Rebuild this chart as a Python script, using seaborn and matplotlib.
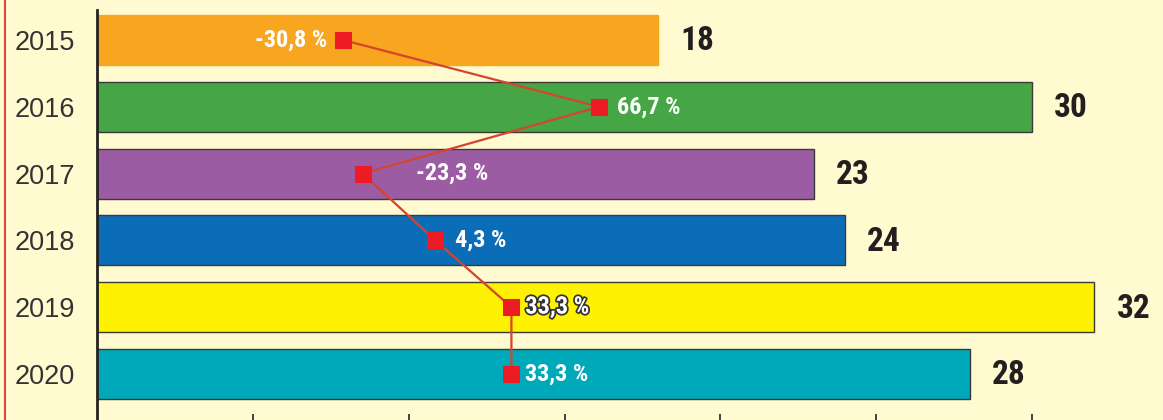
import matplotlib
matplotlib.use("Agg")
import matplotlib.pyplot as plt
import matplotlib.patheffects as pe
from matplotlib.lines import Line2D
import pandas as pd
import seaborn as sns

# Data
years = ['2015', '2016', '2017', '2018', '2019', '2020']
values = [18, 30, 23, 24, 32, 28]
changes = [-30.8, 66.7, -23.3, 4.3, 33.3, 33.3]
change_labels = ['-30,8 %', '66,7 %', '-23,3 %', '4,3 %', '33,3 %', '33,3 %']
colors = ['#F8A51F', '#46A645', '#9B5CA4', '#0B6DB8', '#FFF200', '#00A9BA']

df = pd.DataFrame({'year': years, 'value': values, 'change': changes})
df['pos'] = range(len(df))

bg = '#FFFAD0'
sns.set_style("white")
plt.rcParams['font.family'] = ['Liberation Sans', 'DejaVu Sans']
narrow = ['Roboto Condensed', 'DejaVu Sans']

fig = plt.figure(figsize=(11.63, 4.2), dpi=100, facecolor=bg)
ax = fig.add_axes([97 / 1163, 0, 1 - 97 / 1163, 410 / 420])
ax.set_facecolor(bg)

sns.barplot(data=df, x='value', y='year', hue='year', palette=colors,
            orient='h', width=0.75, legend=False, ax=ax, saturation=1,
            edgecolor='#3a3a3a', linewidth=1)
for i, cont in enumerate(ax.containers):
    for bar in cont:
        if i == 0:
            bar.set_edgecolor(colors[0])

ax.set_xlim(0, 34.2)
ax.set_ylim(5.69, -0.45)
ax.set_xlabel('')
ax.set_ylabel('')
ax.set_xticks([5, 10, 15, 20, 25, 30])
ax.set_xticklabels([])
ax.tick_params(axis='x', direction='in', length=4, width=1.2, color='#222222', bottom=True)
ax.tick_params(axis='y', length=0, labelsize=19.5, labelcolor='#333333', pad=16)
for s in ['top', 'right', 'bottom']:
    ax.spines[s].set_visible(False)
ax.spines['left'].set_color('#222222')
ax.spines['left'].set_linewidth(2)

for i, v in enumerate(values):
    ax.annotate(str(v), (v, i), xytext=(16, -1), textcoords='offset points',
                va='center', ha='left', fontsize=24, fontweight='bold',
                color='#231F20', family=narrow)

# percentage change line on a second x scale
ax2 = ax.twiny()
sns.lineplot(data=df, x='change', y='pos', sort=False, estimator=None,
             color='#D4442E', linewidth=1.6, marker='s', markersize=11,
             markerfacecolor='#ED1C24', markeredgecolor='#ED1C24', ax=ax2)
ax2.set_xlim(-124.5, 281.4)
ax2.set_ylim(5.69, -0.45)
ax2.set_xticks([])
ax2.set_xlabel('')
ax2.set_ylabel('')
for s in ax2.spines.values():
    s.set_visible(False)

offsets = [-11, 13, 38, 14, 10, 10]
for i, (c, lab, off) in enumerate(zip(changes, change_labels, offsets)):
    t = ax2.annotate(lab, (c, i), xytext=(off, 0), textcoords='offset points',
                     va='center', ha='right' if off < 0 else 'left',
                     fontsize=17.5, fontweight='bold', color='white', family=narrow)
    if i == 4:
        t.set_path_effects([pe.withStroke(linewidth=2.5, foreground='#333333')])

fig.add_artist(Line2D([5 / 1163, 5 / 1163], [0, 1], color='#E04A3A', lw=1.5))

fig.savefig('out.png', dpi=100, facecolor=bg)
